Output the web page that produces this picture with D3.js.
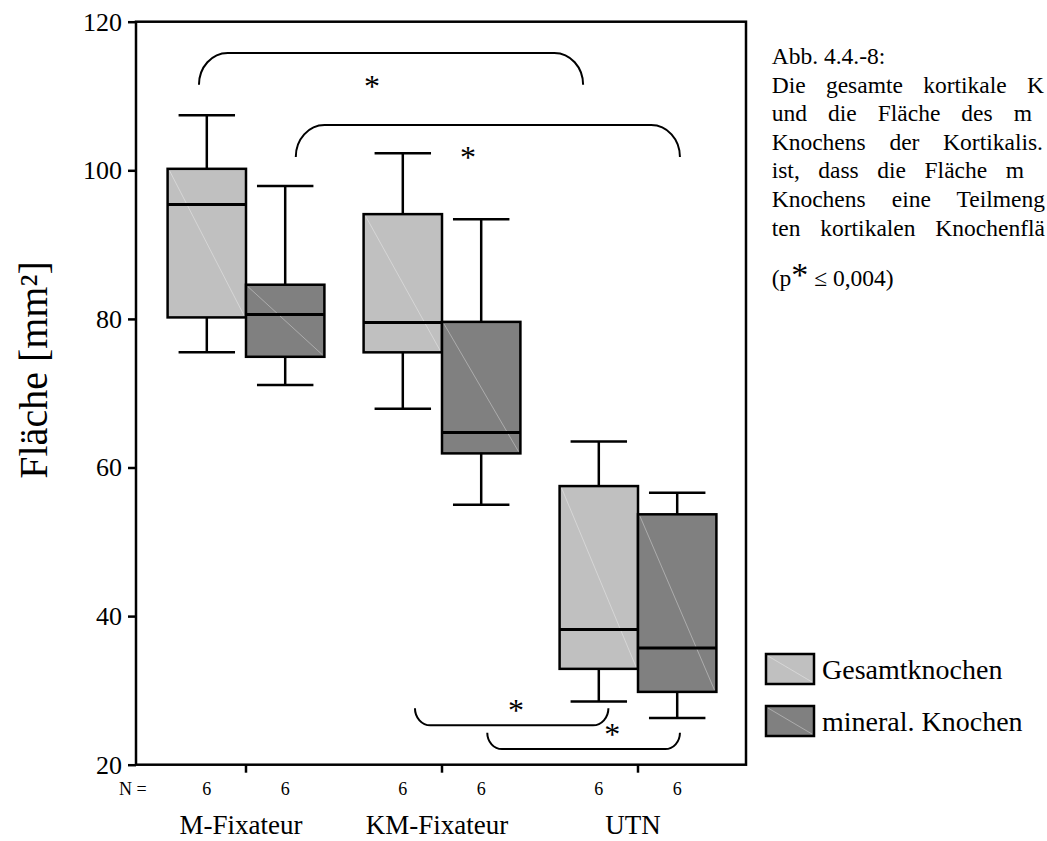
<!DOCTYPE html>
<html>
<head>
<meta charset="utf-8">
<script src="https://cdn.jsdelivr.net/npm/d3@7.9.0/dist/d3.min.js"></script>
<style>
  html, body { margin: 0; padding: 0; background: #fff; }
  svg { display: block; font-family: 'Liberation Serif', 'Times New Roman', serif; }
</style>
</head>
<body>
<svg id="chart" width="1047" height="841"></svg>
<script>
// groups and series
const groups = ['M-Fixateur', 'KM-Fixateur', 'UTN'];
const series = ['Gesamtknochen', 'mineral. Knochen'];
const counts = [[6, 6], [6, 6], [6, 6]];

// box stats per group: [lower whisker, Q1, median, Q3, upper whisker]
const gesamtStats = [
  [75.5, 80.2, 95.4, 100.2, 107.4],
  [67.9, 75.5, 79.5, 94.1, 102.3],
  [28.5, 32.9, 38.2, 57.5, 63.5]
];
const mineralStats = [
  [71.1, 74.9, 80.6, 84.6, 97.9],
  [55.0, 61.9, 64.7, 79.6, 93.4],
  [26.3, 29.8, 35.7, 53.7, 56.6]
];
const yTicks = [20, 40, 60, 80, 100, 120];

// significance brackets (x in group index units, y in mm²)
const bracketFrom = [-0.24, 0.254, 0.862, 1.231];
const bracketTo = [1.72, 2.214, 1.849, 2.214];
const bracketBar = [115.8, 106.1, 25.3, 22.1];
const bracketLeg = [111.5, 101.8, 27.6, 24.3];
const starX = [0.643, 1.133, 1.378, 1.869];
const starY = [112.15, 102.5, 28.1, 24.9];

// caption lines: only the part visible in the picture, justified to an end x
const captionLines = [
  'Abb. 4.4.-8:',
  'Die gesamte kortikale K',
  'und die Fläche des m',
  'Knochens der Kortikalis.',
  'ist, dass die Fläche m',
  'Knochens eine Teilmeng',
  'ten kortikalen Knochenflä'
];
const captionEnds = [null, 1044, 1032, 1043, 1024, 1045, 1045];

const fills = ['#c0c0c0', '#808080'];

const svg = d3.select('#chart');
const frame = { left: 136, top: 21.7, right: 746, bottom: 764.7 };

const y = d3.scaleLinear().domain([20, 120]).range([frame.bottom, frame.top]);
const x = d3.scaleBand().domain(groups).range([148, 736]);
const boxW = x.step() * 0.4;
const capW = boxW * 0.72;
const center = (g) => x(g) + x.bandwidth() / 2;
const xi = d3.scaleLinear().domain([0, groups.length - 1])
  .range([center(groups[0]), center(groups[groups.length - 1])]);

// flatten boxes
const boxes = [];
groups.forEach((g, gi) => {
  [gesamtStats[gi], mineralStats[gi]].forEach((s, si) => {
    const left = center(g) - boxW + si * boxW;
    boxes.push({ g, si, left, cx: left + boxW / 2, lo: s[0], q1: s[1], med: s[2], q3: s[3], hi: s[4], n: counts[gi][si] });
  });
});

// whiskers
const wh = svg.append('g').attr('stroke', '#000').attr('stroke-width', 2.5).attr('fill', 'none');
boxes.forEach((b) => {
  wh.append('line').attr('x1', b.cx).attr('x2', b.cx).attr('y1', y(b.hi)).attr('y2', y(b.q3));
  wh.append('line').attr('x1', b.cx).attr('x2', b.cx).attr('y1', y(b.lo)).attr('y2', y(b.q1));
  wh.append('line').attr('x1', b.cx - capW / 2).attr('x2', b.cx + capW / 2).attr('y1', y(b.hi)).attr('y2', y(b.hi));
  wh.append('line').attr('x1', b.cx - capW / 2).attr('x2', b.cx + capW / 2).attr('y1', y(b.lo)).attr('y2', y(b.lo));
});

// boxes
const bx = svg.append('g');
boxes.forEach((b) => {
  bx.append('rect')
    .attr('x', b.left).attr('y', y(b.q3))
    .attr('width', boxW).attr('height', y(b.q1) - y(b.q3))
    .attr('fill', fills[b.si]).attr('stroke', '#000').attr('stroke-width', 2.5);
  // faint diagonal seam from the original rendering
  bx.append('line')
    .attr('x1', b.left + 2).attr('y1', y(b.q3) + 2)
    .attr('x2', b.left + boxW - 2).attr('y2', y(b.q1) - 2)
    .attr('stroke', 'rgba(255,255,255,0.35)').attr('stroke-width', 1);
  bx.append('line')
    .attr('x1', b.left).attr('x2', b.left + boxW)
    .attr('y1', y(b.med)).attr('y2', y(b.med))
    .attr('stroke', '#000').attr('stroke-width', 3);
});

// frame
svg.append('rect')
  .attr('x', frame.left).attr('y', frame.top)
  .attr('width', frame.right - frame.left).attr('height', frame.bottom - frame.top)
  .attr('fill', 'none').attr('stroke', '#000').attr('stroke-width', 2.5);

// y axis
const yAxis = svg.append('g')
  .attr('transform', `translate(${frame.left},0)`)
  .call(d3.axisLeft(y).tickValues(yTicks).tickSize(8).tickSizeOuter(0).tickPadding(6));
yAxis.select('.domain').remove();
yAxis.selectAll('line').attr('stroke-width', 2.5);
yAxis.selectAll('text')
  .attr('font-family', 'Liberation Serif').attr('font-size', 26).attr('fill', '#000');

// x axis ticks
const xAxis = svg.append('g')
  .attr('transform', `translate(0,${frame.bottom})`)
  .call(d3.axisBottom(x).tickSize(8).tickSizeOuter(0).tickFormat(''));
xAxis.select('.domain').remove();
xAxis.selectAll('line').attr('stroke-width', 2.5);

// N row
svg.append('text').attr('x', 119).attr('y', 795)
  .attr('font-size', 18).text('N =');
svg.append('g').selectAll('text').data(boxes).join('text')
  .attr('x', (d) => d.cx).attr('y', 795)
  .attr('text-anchor', 'middle').attr('font-size', 18)
  .text((d) => d.n);

// category labels
svg.append('g').selectAll('text').data(groups).join('text')
  .attr('x', (d) => center(d) - 5).attr('y', 834)
  .attr('text-anchor', 'middle').attr('font-size', 27)
  .text((d) => d);

// y title
svg.append('text')
  .attr('transform', 'translate(33,370) rotate(-90)')
  .attr('text-anchor', 'middle').attr('dominant-baseline', 'central')
  .attr('font-size', 40)
  .text('Fläche [mm²]');

// brackets
const br = svg.append('g').attr('fill', 'none').attr('stroke', '#000').attr('stroke-width', 2);
bracketFrom.forEach((f, i) => {
  const x0 = xi(f), x1 = xi(bracketTo[i]);
  const yb = y(bracketBar[i]), yl = y(bracketLeg[i]);
  const ry = Math.abs(yl - yb);
  const rx = ry * 0.9;
  const sweep = yb < yl ? 1 : 0;
  br.append('path').attr('d',
    `M${x0},${yl} A${rx},${ry} 0 0 ${sweep} ${x0 + rx},${yb} L${x1 - rx},${yb} A${rx},${ry} 0 0 ${sweep} ${x1},${yl}`);
});
const starSize = 32;
svg.append('g').selectAll('text').data(starX).join('text')
  .attr('x', (d) => xi(d))
  .attr('y', (d, i) => y(starY[i]) + starSize * 0.52)
  .attr('text-anchor', 'middle').attr('font-size', starSize)
  .text('*');

// legend
const lg = svg.append('g');
series.forEach((s, i) => {
  const ty = 654 + i * 52;
  lg.append('rect').attr('x', 766).attr('y', ty).attr('width', 48).attr('height', 30)
    .attr('fill', fills[i]).attr('stroke', '#000').attr('stroke-width', 2.5);
  lg.append('line').attr('x1', 768).attr('y1', ty + 2).attr('x2', 812).attr('y2', ty + 28)
    .attr('stroke', 'rgba(255,255,255,0.35)').attr('stroke-width', 1);
  lg.append('text').attr('x', 822).attr('y', ty + 25).attr('font-size', 28).text(s);
});

// caption (justified lines)
const capX = 771.7;
const cap = svg.append('g').attr('font-size', 23.5);
captionLines.forEach((line, i) => {
  const t = cap.append('text').attr('x', capX).attr('y', 64 + i * 28.6).text(line);
  if (captionEnds[i] != null) {
    const gaps = line.split(' ').length - 1;
    const natural = t.node().getComputedTextLength();
    t.attr('word-spacing', Math.max(0, (captionEnds[i] - capX - natural) / gaps));
  }
});
const pLine = cap.append('text').attr('x', capX).attr('y', 286);
pLine.append('tspan').text('(p');
pLine.append('tspan').attr('font-size', 34).text('*');
pLine.append('tspan').text(' ≤ 0,004)');
</script>
</body>
</html>
